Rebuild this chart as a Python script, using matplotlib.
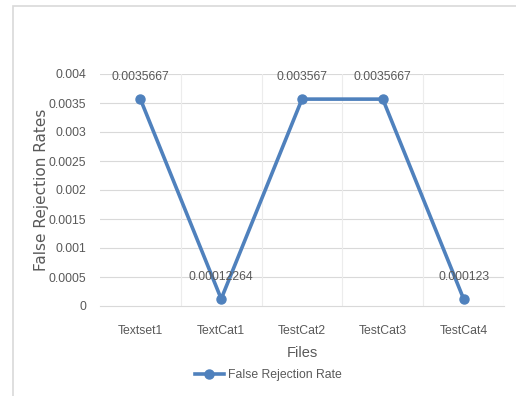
import matplotlib
matplotlib.use("Agg")
import matplotlib.pyplot as plt
from matplotlib.patches import Rectangle
from matplotlib.lines import Line2D

categories = ["Textset1", "TextCat1", "TestCat2", "TestCat3", "TestCat4"]
rates = [0.0035667, 0.00012264, 0.003567, 0.0035667, 0.000123]
labels = ["0.0035667", "0.00012264", "0.003567", "0.0035667", "0.000123"]
yticks = [0, 0.0005, 0.001, 0.0015, 0.002, 0.0025, 0.003, 0.0035, 0.004]
ytick_labels = ["0", "0.0005", "0.001", "0.0015", "0.002", "0.0025", "0.003", "0.0035", "0.004"]

W, H = 516, 396
fig = plt.figure(figsize=(W / 100, H / 100), dpi=100)
fig.patch.set_facecolor("white")

sans = ["Liberation Sans", "DejaVu Sans"]
text_col = "#595959"
line_col = "#4f81bd"
fs = 8.8

# outer chart frame
fig.add_artist(Rectangle((13 / W, -0.1), 1.2, 1 - 6 / H + 0.1, transform=fig.transFigure,
                         fill=False, edgecolor="#d9d9d9", linewidth=1.2))

ax = fig.add_axes([100 / W, 1 - 306 / H, 404 / W, 232 / H])
x = list(range(len(categories)))
ax.plot(x, rates, color=line_col, linewidth=2.6, marker="o", markersize=6.5, zorder=3,
        solid_capstyle="round")
ax.set_xlim(-0.5, len(categories) - 0.5)
ax.set_ylim(0, 0.004)
ax.set_yticks(yticks)
ax.set_yticklabels(ytick_labels, family=sans, fontsize=fs, color=text_col)
ax.set_xticks(x)
ax.set_xticklabels(categories, family=sans, fontsize=fs, color=text_col)
ax.tick_params(axis="both", length=0)
ax.tick_params(axis="y", pad=10)
ax.tick_params(axis="x", pad=14)

# light grid: horizontal values and vertical category dividers
for v in yticks[1:]:
    ax.axhline(v, color="#d9d9d9", linewidth=0.8, zorder=0)
for b in [i + 0.5 for i in range(len(categories))]:
    ax.axvline(b, color="#ececec", linewidth=0.8, zorder=0)
for s in ["top", "right", "left"]:
    ax.spines[s].set_visible(False)
ax.spines["bottom"].set_color("#d9d9d9")

for xi, v, t in zip(x, rates, labels):
    ax.annotate(t, (xi, v), xytext=(0, 16), textcoords="offset points", ha="center",
                va="center", family=sans, fontsize=fs, color=text_col)

ax.set_xlabel("Files", family=sans, fontsize=10.5, color=text_col, labelpad=6)
ax.set_ylabel("False Rejection Rates", family="DejaVu Sans", fontsize=11,
              color=text_col)
ax.yaxis.set_label_coords(-51 / 404, 0.5)

handle = Line2D([], [], color=line_col, linewidth=2.6, marker="o", markersize=6.5)
fig.legend([handle], ["False Rejection Rate"], loc="center", bbox_to_anchor=(268 / W, 1 - 375 / H),
           frameon=False, prop={"family": sans, "size": fs}, labelcolor=text_col,
           handlelength=2.4, handletextpad=0.3)

fig.savefig("out.png", dpi=100, facecolor="white")
